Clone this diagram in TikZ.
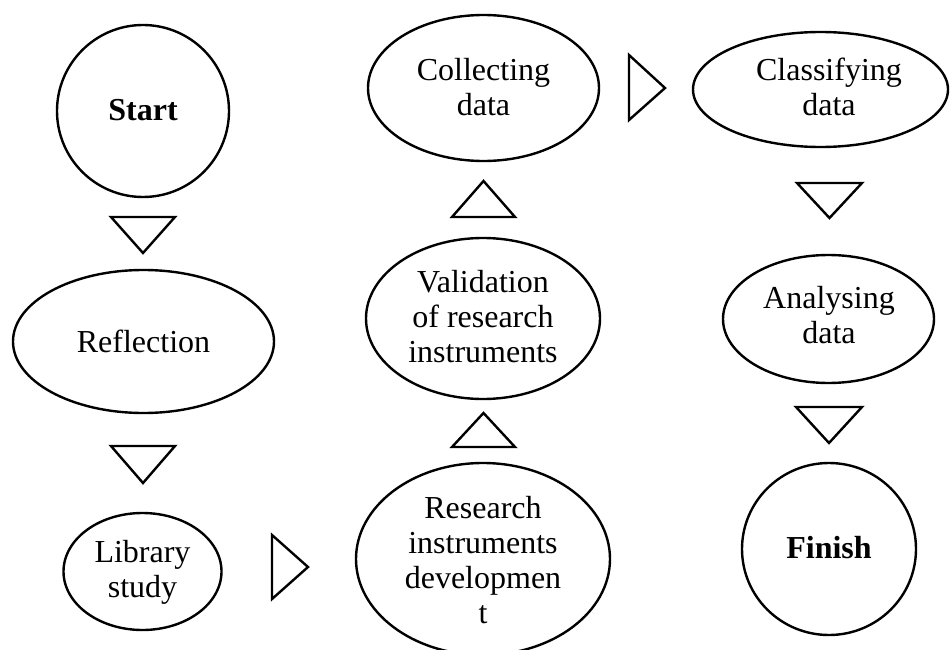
\documentclass[tikz,border=0pt]{standalone}
\usepackage{fontspec}
\setmainfont{Liberation Serif}
\usetikzlibrary{shapes.geometric}
\begin{document}
\begin{tikzpicture}[x=1pt,y=-1pt,
  shp/.style={draw, line width=2.4pt, ellipse, inner sep=0pt},
  lbl/.style={align=center, font=\fontsize{32}{35}\selectfont, inner sep=0pt},
  tri/.style={draw, line width=2.4pt, line join=miter}]
\clip (0,0) rectangle (950,650);
% shapes
\node[shp, minimum width=172pt, minimum height=172pt] (start) at (143,111) {};
\node[shp, minimum width=261pt, minimum height=143pt] (refl) at (143.5,341.5) {};
\node[shp, minimum width=158pt, minimum height=117pt] (lib) at (142.5,571.5) {};
\node[shp, minimum width=254pt, minimum height=192pt] (rid) at (483,559) {};
\node[shp, minimum width=234pt, minimum height=161pt] (val) at (483,318.5) {};
\node[shp, minimum width=231pt, minimum height=146pt] (col) at (483.5,88) {};
\node[shp, minimum width=255pt, minimum height=115pt] (cls) at (820.5,89.5) {};
\node[shp, minimum width=211pt, minimum height=128pt] (ana) at (828.5,319) {};
\node[shp, minimum width=174pt, minimum height=172pt] (fin) at (829,549) {};
% texts
\node[lbl, font=\fontsize{32}{35}\selectfont\bfseries] (startt) at (143,110.5) {Start};
\node[lbl] (reflt) at (143.5,341) {Reflection};
\node[lbl] (libt) at (142.5,572) {Library\\study};
\node[lbl] (ridt) at (483,560) {Research\\instruments\\developmen\\t};
\node[lbl] (valt) at (483,316.5) {Validation\\of research\\instruments};
\node[lbl] (colt) at (483.5,87) {Collecting\\data};
\node[lbl] (clst) at (829,87) {Classifying\\data};
\node[lbl] (anat) at (829,315.5) {Analysing\\data};
\node[lbl, font=\fontsize{32}{35}\selectfont\bfseries] (fint) at (829,548) {Finish};
% triangles
\draw[tri] (111,217) -- (175,217) -- (143,253) -- cycle;
\draw[tri] (111,446) -- (175,446) -- (143,483) -- cycle;
\draw[tri] (272,535) -- (272,599) -- (308,567) -- cycle;
\draw[tri] (452,447) -- (515,447) -- (483.5,413) -- cycle;
\draw[tri] (452,217) -- (515,217) -- (483.5,181) -- cycle;
\draw[tri] (629,55) -- (629,120) -- (665,88) -- cycle;
\draw[tri] (797,183) -- (862,183) -- (829.5,218) -- cycle;
\draw[tri] (796,407) -- (862,407) -- (829,443) -- cycle;
\end{tikzpicture}
\end{document}
